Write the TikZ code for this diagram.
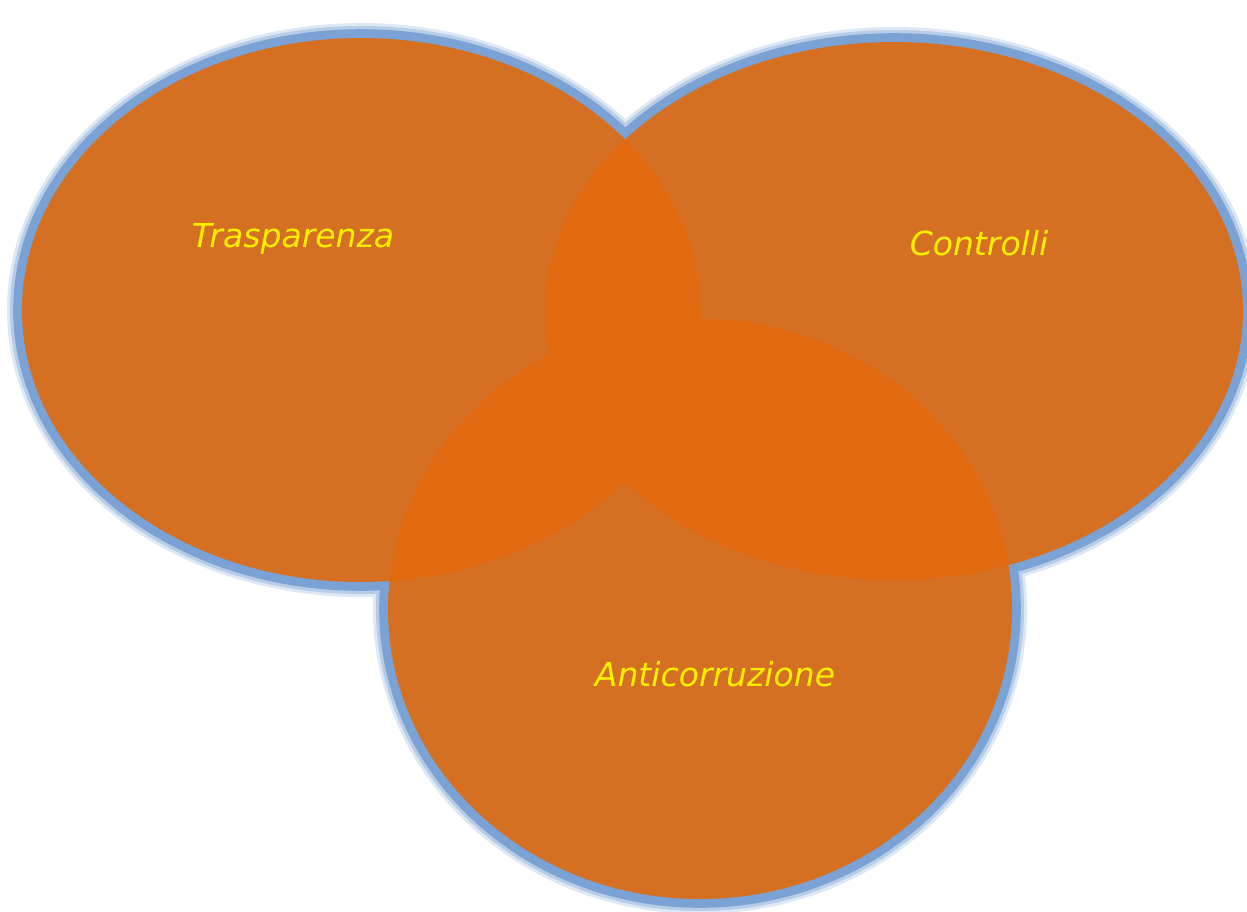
\documentclass[tikz,border=0pt]{standalone}
\usepackage{fontspec}
\setsansfont{DejaVu Sans}
\definecolor{vennorange}{RGB}{213,111,33}
\definecolor{vennoverlap}{RGB}{225,106,16}
\definecolor{vennglow}{RGB}{122,162,212}
\definecolor{vennlabel}{RGB}{255,240,0}
\begin{document}
\begin{tikzpicture}[
  x=0.25mm, y=-0.25mm,
  % alone: contorno sfumato azzurro, sotto i riempimenti
  glowwide/.style={draw=vennglow!25, line width=7.5mm},
  glowmid/.style={draw=vennglow!55, line width=6mm},
  glowline/.style={draw=vennglow, line width=4.4mm},
  setfill/.style={fill=vennorange},
  overlapfill/.style={fill=vennoverlap},
  every node/.style={inner sep=0pt, text=vennlabel,
    font=\sffamily\itshape\fontsize{23.5pt}{23.5pt}\selectfont}
]
  \useasboundingbox (0,0) rectangle (1247,911);
  % ---- centri degli insiemi ----
  \coordinate (T) at (361,310);
  \coordinate (C) at (894,311);
  \coordinate (A) at (700,609);
  % ---- alone ----
  \foreach \s in {glowwide,glowmid,glowline} {
    \draw[\s] (T) ellipse [x radius=339, y radius=272];
    \draw[\s] (C) ellipse [x radius=349, y radius=269];
    \draw[\s] (A) ellipse [x radius=312, y radius=290];
  }
  % ---- riempimenti ----
  \fill[setfill] (T) ellipse [x radius=339, y radius=272];
  \fill[setfill] (C) ellipse [x radius=349, y radius=269];
  \fill[setfill] (A) ellipse [x radius=312, y radius=290];
  % ---- intersezioni ----
  \begin{scope}
    \clip (T) ellipse [x radius=339, y radius=272];
    \fill[overlapfill] (C) ellipse [x radius=349, y radius=269];
    \fill[overlapfill] (A) ellipse [x radius=312, y radius=290];
  \end{scope}
  \begin{scope}
    \clip (C) ellipse [x radius=349, y radius=269];
    \fill[overlapfill] (A) ellipse [x radius=312, y radius=290];
  \end{scope}
  % ---- etichette ----
  \node (trasp) at (293,239) {Trasparenza};
  \node (contr) at (979,243) {Controlli};
  \node (antic) at (715,674) {Anticorruzione};
\end{tikzpicture}
\end{document}
